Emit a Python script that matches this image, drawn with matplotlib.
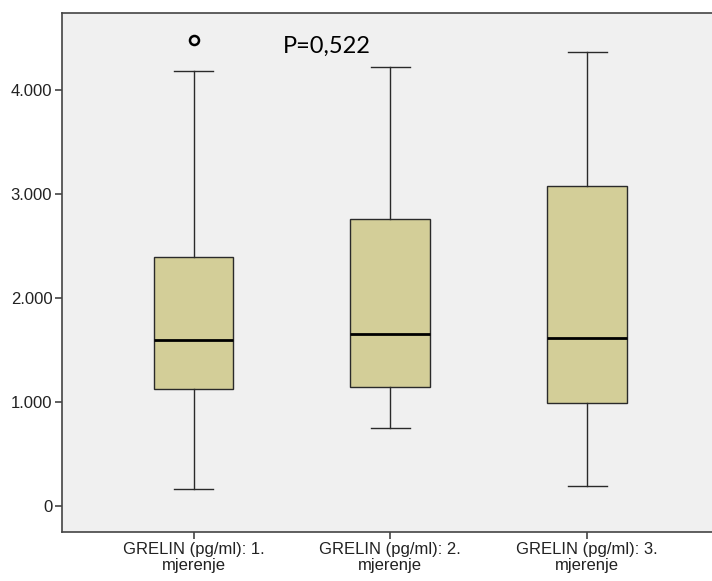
import matplotlib
matplotlib.use('Agg')
import matplotlib.pyplot as plt

labels = ['GRELIN (pg/ml): 1.\nmjerenje', 'GRELIN (pg/ml): 2.\nmjerenje', 'GRELIN (pg/ml): 3.\nmjerenje']
whislo = [163, 750, 192]
q1 = [1125, 1144, 990]
med = [1596, 1654, 1615]
q3 = [2394, 2760, 3077]
whishi = [4183, 4221, 4365]
fliers = [[4481], [], []]
ticks = [0, 1000, 2000, 3000, 4000]
tick_labels = ['0', '1.000', '2.000', '3.000', '4.000']

stats = []
for i in range(3):
    stats.append(dict(label=labels[i], whislo=whislo[i], q1=q1[i], med=med[i],
                      q3=q3[i], whishi=whishi[i], fliers=fliers[i]))

fig = plt.figure(figsize=(7.12, 5.81), dpi=100)
ax = fig.add_axes([62 / 712, 49 / 581, 1 - 62 / 712 + 0.01, 519 / 581])
ax.set_facecolor('#f0f0f0')

ax.bxp(stats, positions=[1, 2, 3], widths=0.405, patch_artist=True,
       boxprops=dict(facecolor='#d3ce98', edgecolor='#2a2a2a', linewidth=1.0),
       medianprops=dict(color='black', linewidth=2.0),
       whiskerprops=dict(color='#2a2a2a', linewidth=1.0),
       capprops=dict(color='#2a2a2a', linewidth=1.0), capwidths=0.2,
       flierprops=dict(marker='o', markersize=6.5, markerfacecolor='none',
                       markeredgecolor='black', markeredgewidth=1.8))

ax.set_xlim(0.332, 3.67)
ax.set_ylim(-250, 4740)
ax.set_yticks(ticks)
ax.set_yticklabels(tick_labels, family='Liberation Sans', fontsize=12, color='#222222')
ax.set_xticks([1, 2, 3])
ax.set_xticklabels(labels, family='Liberation Sans', fontsize=12, color='#222222',
                   linespacing=1.1)
ax.tick_params(direction='out', length=5, width=1.2, color='#444444', pad=2)
for s in ax.spines.values():
    s.set_color('#444444')
    s.set_linewidth(1.2)

ax.text(1.456, 4415, 'P=0,522', family='Lato', fontsize=17, ha='left', va='center')

fig.savefig('out.png', dpi=100)
